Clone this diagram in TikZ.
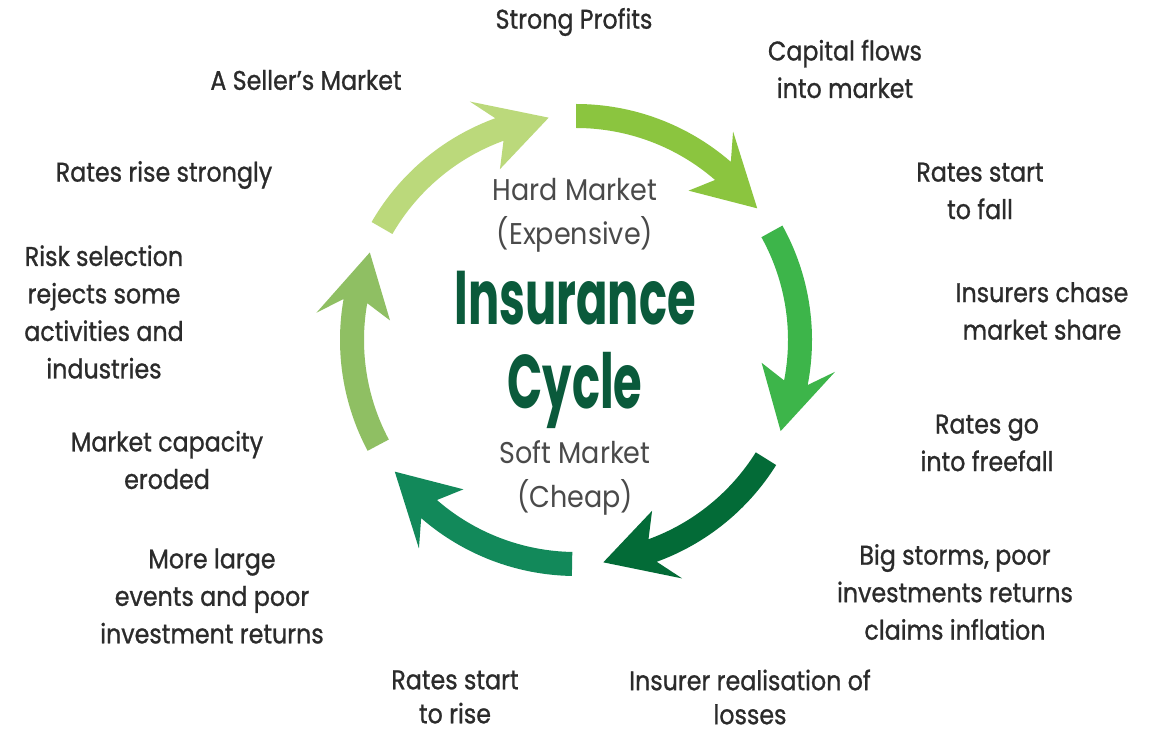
\documentclass[tikz,border=0pt]{standalone}
\usepackage{fontspec}
\setmainfont{Poppins}
\newfontfamily\labelfont[FakeStretch=0.88,FakeBold=0.9]{Poppins}
\newfontfamily\midfont[FakeStretch=0.9]{Poppins}
\newfontfamily\titlefont[FakeStretch=0.61]{Poppins}
\usetikzlibrary{calc}

\definecolor{arrA}{HTML}{8BC53F}
\definecolor{arrB}{HTML}{3DB54A}
\definecolor{arrC}{HTML}{036B37}
\definecolor{arrD}{HTML}{12895A}
\definecolor{arrE}{HTML}{8FBF63}
\definecolor{arrF}{HTML}{BBD97B}
\definecolor{titlegreen}{HTML}{0A5A3B}
\definecolor{labelink}{HTML}{2B2B2B}
\definecolor{centergray}{HTML}{4A4A4A}

% curved arrow on the ring: #1 tail angle, #2 tip angle, #3 colour
\newcommand{\ringarrow}[3]{%
  \fill[#3] ($(c)+(#1:236pt)$)
    arc[start angle=#1, end angle=#2+13, radius=236pt]
    -- ($(c)+(#2+17:261pt)$)
    -- ($(c)+(#2:224pt)$)
    -- ($(c)+(#2+17:187pt)$)
    -- ($(c)+(#2+13:212pt)$)
    arc[start angle=#2+13, end angle=#1, radius=212pt]
    -- cycle;}

\begin{document}
\begin{tikzpicture}[x=1pt,y=1pt,
  lbl/.style={align=center, text=labelink, inner sep=0pt,
    font=\fontsize{27}{37.5}\labelfont},
  lblshort/.style={lbl, font=\fontsize{27}{34}\labelfont},
  mid/.style={align=center, text=centergray, inner sep=0pt,
    font=\fontsize{30}{44}\midfont},
  ttl/.style={align=center, text=titlegreen, inner sep=0pt,
    font=\fontsize{76}{84}\titlefont\bfseries}]
\useasboundingbox (0,0) rectangle (1158,734);
\fill[white] (0,0) rectangle (1158,734);
\coordinate (c) at (576,394);

% the six arrows of the cycle, clockwise from the top
\ringarrow{90}{36}{arrA}
\ringarrow{29}{-24}{arrB}
\ringarrow{-32}{-83}{arrC}
\ringarrow{-91}{-144}{arrD}
\ringarrow{-152}{-203}{arrE}
\ringarrow{150}{97}{arrF}

% centre
\node[mid] (hard) at (575,519) {Hard Market\\(Expensive)};
\node[ttl] (title) at (575,384) {Insurance\\Cycle};
\node[mid] (soft) at (575,256) {Soft Market\\(Cheap)};

% stages round the ring
\node[lbl] (l1) at (574,712) {Strong Profits};
\node[lbl] (l2) at (845,665) {Capital flows\\into market};
\node[lbl] (l3) at (980,543) {Rates start\\to fall};
\node[lbl] (l4) at (1042,423) {Insurers chase\\market share};
\node[lbl] (l5) at (987,291) {Rates go\\into freefall};
\node[lbl] (l6) at (955,142) {Big storms, poor\\investments returns\\claims inflation};
\node[lblshort] (l7) at (750,37) {Insurer realisation of\\losses};
\node[lblshort] (l8) at (455,37) {Rates start\\to rise};
\node[lbl] (l9) at (212,138) {More large\\events and poor\\investment returns};
\node[lbl] (l10) at (167,274) {Market capacity\\eroded};
\node[lbl] (l11) at (104,422) {Risk selection\\rejects some\\activities and\\industries};
\node[lbl] (l12) at (164,559) {Rates rise strongly};
\node[lbl] (l13) at (306,654) {A Seller’s Market};
\end{tikzpicture}
\end{document}
